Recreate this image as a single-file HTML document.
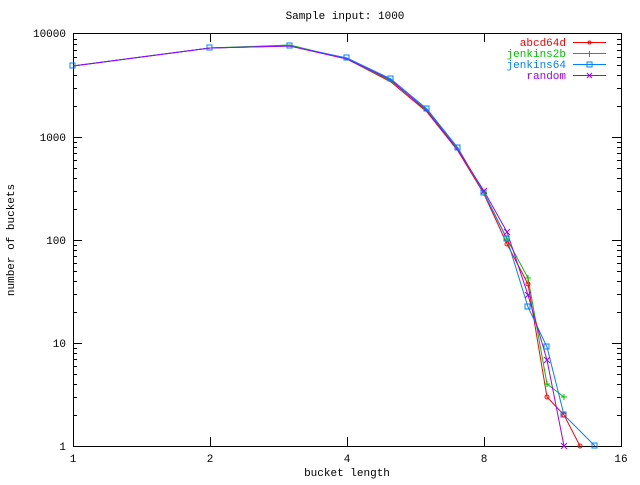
<!DOCTYPE html>
<html><head><meta charset="utf-8"><style>
body{margin:0;background:#fff}
text{font-family:"Liberation Mono","DejaVu Sans Mono",monospace;font-size:11px}
</style></head><body>
<svg width="640" height="480" xmlns="http://www.w3.org/2000/svg">
<rect width="640" height="480" fill="#fff"/>
<g stroke="#000" stroke-width="1" fill="none" shape-rendering="crispEdges">
<rect x="73.5" y="33.5" width="548" height="413"/>
<path id="ticks" d="
M73 446.5h9M621 446.5h-9
M73 415.5h4M617 415.5h4 M73 397.5h4M617 397.5h4 M73 384.5h4M617 384.5h4 M73 374.5h4M617 374.5h4 M73 366.5h4M617 366.5h4 M73 359.5h4M617 359.5h4 M73 353.5h4M617 353.5h4 M73 348.5h4M617 348.5h4
M73 343.5h9M621 343.5h-9
M73 312.5h4M617 312.5h4 M73 294.5h4M617 294.5h4 M73 281.5h4M617 281.5h4 M73 271.5h4M617 271.5h4 M73 263.5h4M617 263.5h4 M73 256.5h4M617 256.5h4 M73 250.5h4M617 250.5h4 M73 245.5h4M617 245.5h4
M73 240.5h9M621 240.5h-9
M73 209.5h4M617 209.5h4 M73 191.5h4M617 191.5h4 M73 178.5h4M617 178.5h4 M73 168.5h4M617 168.5h4 M73 160.5h4M617 160.5h4 M73 153.5h4M617 153.5h4 M73 147.5h4M617 147.5h4 M73 142.5h4M617 142.5h4
M73 137.5h9M621 137.5h-9
M73 106.5h4M617 106.5h4 M73 88.5h4M617 88.5h4 M73 75.5h4M617 75.5h4 M73 65.5h4M617 65.5h4 M73 57.5h4M617 57.5h4 M73 50.5h4M617 50.5h4 M73 44.5h4M617 44.5h4 M73 39.5h4M617 39.5h4
M73 33.5h9M621 33.5h-9
M210.5 446v-9M210.5 33v9 M347.5 446v-9M347.5 33v9 M484.5 446v-9M484.5 33v9"/>
</g>
<g text-anchor="end">
<text x="66" y="450">1</text><text x="66" y="347">10</text><text x="66" y="244">100</text><text x="66" y="141">1000</text><text x="66" y="37">10000</text>
</g>
<g text-anchor="middle">
<text x="73" y="462">1</text><text x="210" y="462">2</text><text x="347" y="462">4</text><text x="484" y="462">8</text><text x="621" y="462">16</text>
<text x="347" y="476">bucket length</text>
<text x="345" y="19">Sample input: 1000</text>
<text transform="translate(14,240) rotate(-90)">number of buckets</text>
</g>
<g fill="none" stroke-width="1">
<polyline stroke="#ff0000" points="73,66 210,48 290,46 347,59 391,82 427,112 458,151 484,194 507,244 528,284 547,397 564,415 580,446"/>
<polyline stroke="#00c000" points="73,66 210,48 290,45 347,59 391,81 427,110 458,149 484,193 507,239 528,278 547,384 564,397"/>
<polyline stroke="#0080ff" points="73,66 210,48 290,46 347,58 391,79 427,109 458,148 484,193 507,239 528,307 547,347 564,415 595,446"/>
<polyline stroke="#a000ff" points="73,66 210,48 290,46 347,59 391,80 427,111 458,150 484,191 507,232 528,295 547,360 564,446"/>
<line x1="573" y1="42.5" x2="606" y2="42.5" stroke="#ff0000"/>
<line x1="573" y1="53.5" x2="606" y2="53.5" stroke="#00c000"/>
<line x1="573" y1="64.5" x2="606" y2="64.5" stroke="#0080ff"/>
<line x1="573" y1="75.5" x2="606" y2="75.5" stroke="#a000ff"/>
<rect x="587" y="62" width="5" height="5" stroke="#0080ff"/>
<path d="M587 73l5 5M592 73l-5 5" stroke="#a000ff"/>
<path d="M589.5 51v6" stroke="#00c000"/>
<circle cx="589.5" cy="42.5" r="1.5" stroke="#ff0000"/>
<g stroke="#0080ff">
<rect x="70" y="63" width="5" height="5"/><rect x="207" y="45" width="5" height="5"/><rect x="287" y="43" width="5" height="5"/><rect x="344" y="55" width="5" height="5"/><rect x="388" y="76" width="5" height="5"/><rect x="424" y="106" width="5" height="5"/><rect x="455" y="145" width="5" height="5"/><rect x="481" y="190" width="5" height="5"/><rect x="504" y="236" width="5" height="5"/><rect x="525" y="304" width="5" height="5"/><rect x="544" y="344" width="5" height="5"/><rect x="561" y="412" width="5" height="5"/><rect x="592" y="443" width="5" height="5"/>
</g>
<g stroke="#00c000">
<path d="M504 239h6M507 236v6M525 278h6M528 275v6M544 384h6M547 381v6M561 397h6M564 394v6M481 193h6M484 190v6"/>
</g>
<g stroke="#a000ff">
<path d="M504 229l6 6M510 229l-6 6M525 292l6 6M531 292l-6 6M544 357l6 6M550 357l-6 6M561 443l6 6M567 443l-6 6M481 188l6 6M487 188l-6 6"/>
</g>
<g stroke="#ff0000">
<circle cx="507" cy="244" r="2"/><circle cx="528" cy="284" r="2"/><circle cx="547" cy="397" r="2"/><circle cx="564" cy="415" r="2"/><circle cx="580" cy="446" r="2"/>
</g>
</g>
<g text-anchor="end">
<text x="566" y="46" fill="#ff0000">abcd64d</text>
<text x="566" y="57" fill="#00c000">jenkins2b</text>
<text x="566" y="68" fill="#0080ff">jenkins64</text>
<text x="566" y="79" fill="#a000ff">random</text>
</g>
</svg>
</body></html>
